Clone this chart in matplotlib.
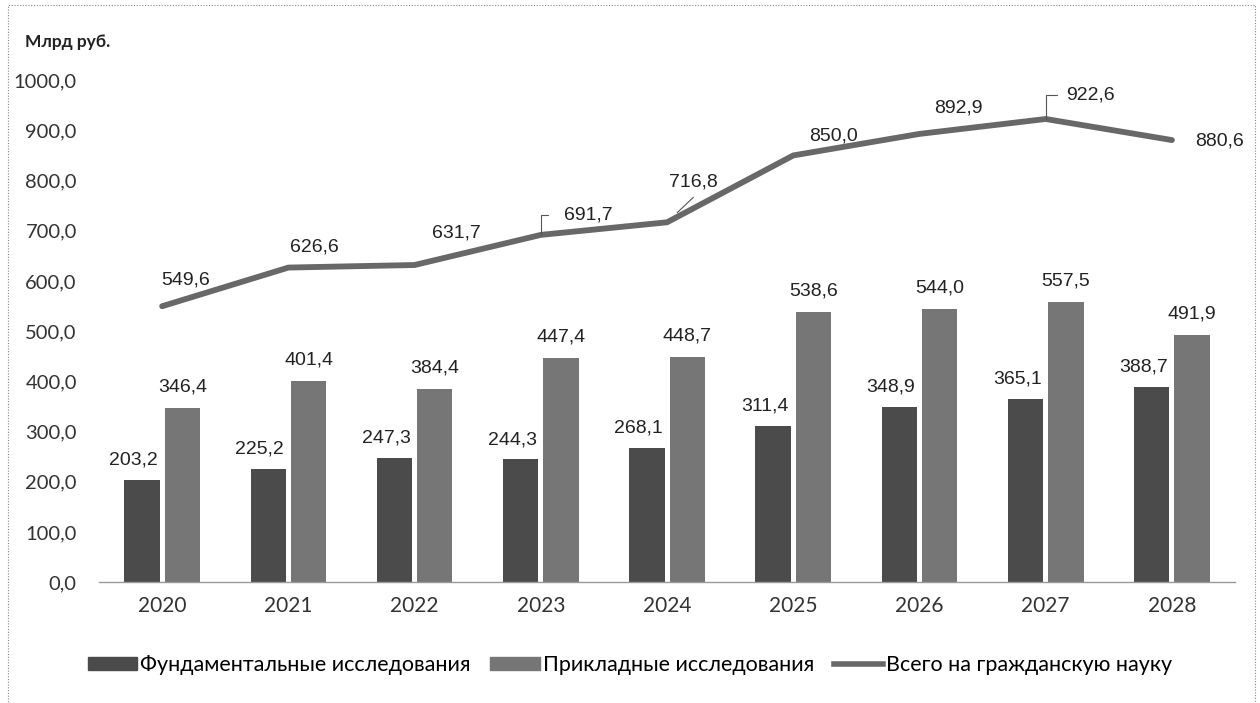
import matplotlib.pyplot as plt
import matplotlib.patches as mpatches
import numpy as np

years = ['2020', '2021', '2022', '2023', '2024', '2025', '2026', '2027', '2028']
fundamental = [203.2, 225.2, 247.3, 244.3, 268.1, 311.4, 348.9, 365.1, 388.7]
applied = [346.4, 401.4, 384.4, 447.4, 448.7, 538.6, 544.0, 557.5, 491.9]
total = [549.6, 626.6, 631.7, 691.7, 716.8, 850.0, 892.9, 922.6, 880.6]

def fmt(v):
    return f'{v:.1f}'.replace('.', ',')

tick_font = 'Lato'
label_font = 'Liberation Sans'
txt = '#222222'

fig = plt.figure(figsize=(12.6, 7.03), dpi=100)
ax = fig.add_axes([0.0786, 0.172, 0.9016, 0.714])

x = np.arange(len(years))
w = 0.28
off = 0.16
c_dark = '#4b4b4b'
c_light = '#767676'
c_line = '#686868'

ax.bar(x - off, fundamental, w, color=c_dark, zorder=2)
ax.bar(x + off, applied, w, color=c_light, zorder=2)
ax.plot(x, total, color=c_line, lw=4.2, solid_capstyle='round', zorder=3)

for i in range(len(years)):
    ax.annotate(fmt(fundamental[i]), (x[i] - off, fundamental[i]), xytext=(-6, 8),
                textcoords='offset points', ha='center', va='bottom',
                fontsize=14, family=label_font, color=txt)
    ax.annotate(fmt(applied[i]), (x[i] + off, applied[i]), xytext=(0, 9),
                textcoords='offset points', ha='center', va='bottom',
                fontsize=14, family=label_font, color=txt)

# line labels, offsets in points from each point
line_offsets = [(17, 19), (19, 15), (30, 23), (34, 14), (19, 29), (29, 14), (28, 19), (32, 17), (34, -1)]
for i, v in enumerate(total):
    ax.annotate(fmt(v), (x[i], v), xytext=line_offsets[i], textcoords='offset points',
                ha='center', va='center', fontsize=14, family=label_font, color=txt,
                zorder=4)

# elbow leader lines (2023, 2027)
for i, end in [(3, (5, 14)), (7, (8, 17))]:
    ax.annotate('', (x[i], total[i]), xytext=end, textcoords='offset points',
                arrowprops=dict(arrowstyle='-', color='#555555', lw=0.8, shrinkA=0, shrinkB=0,
                                connectionstyle='angle,angleA=0,angleB=90,rad=0'))
# diagonal leader (2024)
ax.annotate('', (x[4], total[4]), xytext=(19, 18), textcoords='offset points',
            arrowprops=dict(arrowstyle='-', color='#555555', lw=0.8, shrinkA=0, shrinkB=10))

ax.set_xlim(-0.5, len(years) - 0.5)
ax.set_ylim(0, 1000)
yt = np.arange(0, 1001, 100)
ax.set_yticks(yt)
ax.set_yticklabels([fmt(v) for v in yt], fontsize=14.5, family=tick_font, color='#333333')
ax.set_xticks(x)
ax.set_xticklabels(years, fontsize=15, family=tick_font, color='#333333')
ax.tick_params(axis='x', length=0, pad=10)
ax.tick_params(axis='y', length=0, pad=16)
for s in ['top', 'right', 'left']:
    ax.spines[s].set_visible(False)
ax.spines['bottom'].set_color('#999999')
ax.spines['bottom'].set_linewidth(1)

fig.text(0.054, 0.94, 'Млрд руб.', ha='center', va='center', fontsize=12.5,
         family=tick_font, fontweight='bold', color=txt)

handles = [mpatches.Patch(color=c_dark), mpatches.Patch(color=c_light),
           plt.Line2D([], [], color=c_line, lw=4)]
labels = ['Фундаментальные исследования', 'Прикладные исследования', 'Всего на гражданскую науку']
fig.legend(handles, labels, loc='center', bbox_to_anchor=(0.5, 0.054), ncol=3,
           frameon=False, prop={'family': tick_font, 'size': 15.5},
           handlelength=2.3, handleheight=0.55, handletextpad=0.15, columnspacing=0.9)

border = mpatches.Rectangle((0.006, -0.01), 0.99, 1.003, transform=fig.transFigure,
                            fill=False, ls=(0, (1, 1.5)), lw=0.8, edgecolor='#888888')
fig.patches.append(border)

fig.savefig('out.png', dpi=100)
